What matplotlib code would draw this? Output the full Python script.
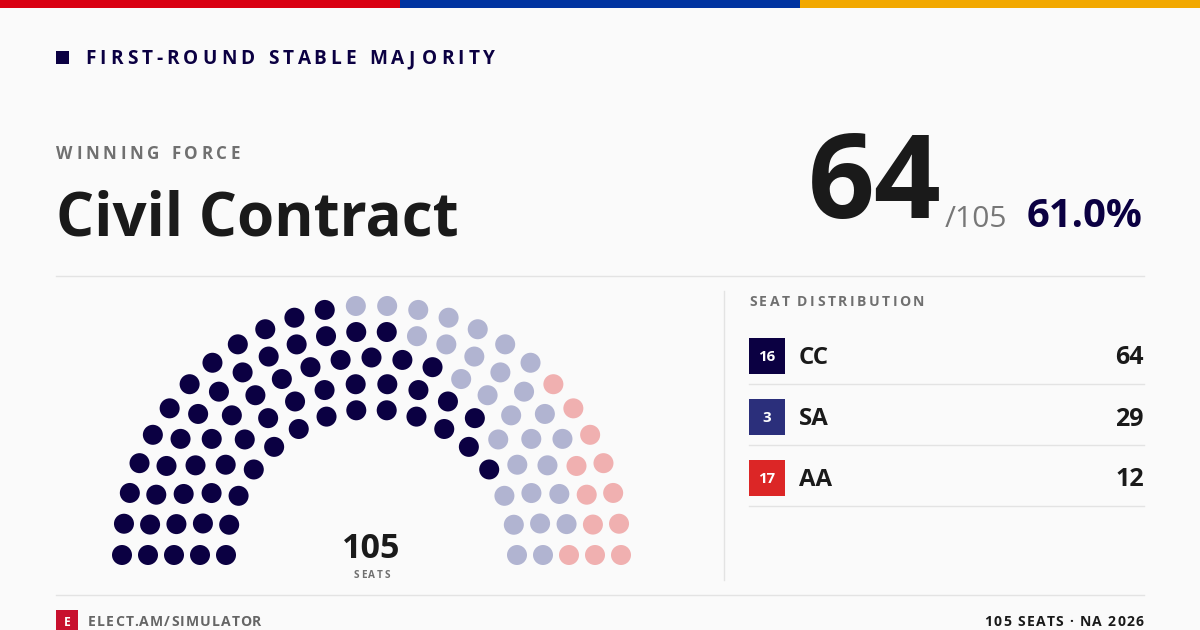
import numpy as np
import matplotlib
matplotlib.use("Agg")
import matplotlib.pyplot as plt
from matplotlib import font_manager as fm
from matplotlib.patches import Circle, Rectangle

# pick a sans family with a static bold face (Noto Sans here is variable only)
bold_fams = {f.name for f in fm.fontManager.ttflist
             if f.weight in (700, 'bold') and '[' not in f.fname}
FAMILY = 'DejaVu Sans'
for fam in ['Open Sans', 'Lato', 'Inter']:
    if fam in bold_fams:
        FAMILY = fam
        break
plt.rcParams['font.family'] = [FAMILY, 'DejaVu Sans']

# --- data ---
parties = ['CC', 'SA', 'AA']
party_seats = [64, 29, 12]
ballot_no = ['16', '3', '17']
winner_name = 'Civil Contract'
total_seats = 105

# hemicycle: seats per row (inner -> outer) and how each row is split
row_seats = [16, 18, 21, 24, 26]
cc_row = [13, 13, 13, 13, 12]
sa_row = [3, 5, 7, 7, 7]
aa_row = [0, 0, 1, 4, 7]

# --- styling ---
BG = '#fafafa'
NAVY = '#0b0042'
party_col = ['#0b0042', '#2b2f7b', '#dc2626']
seat_col = ['#0b0042', '#b1b4d1', '#f0b0b0']
GRAY = '#707070'
DARK = '#1a1a1a'
LINE = '#e3e3e3'

fig = plt.figure(figsize=(12, 6.3), dpi=100, facecolor=BG)
ax = fig.add_axes([0, 0, 1, 1])
ax.set_xlim(0, 1200)
ax.set_ylim(630, 0)
ax.axis('off')
ax.set_facecolor(BG)
renderer = fig.canvas.get_renderer()


def px(p):
    # pixel font size -> points
    return p * 0.72


def text_w(s, size, weight):
    t = ax.text(0, 0, s, fontsize=size, weight=weight)
    w = t.get_window_extent(renderer).width
    t.remove()
    return w


def spaced(x, y, s, size, spacing, color, weight='bold', ha='left'):
    href = text_w('H', size, weight)
    offs = [0.0]
    for i in range(1, len(s)):
        offs.append(text_w(s[:i] + 'H', size, weight) - href + i * spacing)
    total = offs[-1] + text_w(s[-1], size, weight)
    if ha == 'right':
        x = x - total
    elif ha == 'center':
        x = x - total / 2
    for ch, o in zip(s, offs):
        if ch != ' ':
            ax.text(x + o, y, ch, fontsize=size, weight=weight, color=color,
                    va='center', ha='left')


# top flag bar
for i, c in enumerate(['#d90012', '#0033a0', '#f2a800']):
    ax.add_patch(Rectangle((i * 400, 0), 400, 8, color=c, lw=0))

# header
ax.add_patch(Rectangle((56, 51), 13, 13, color=NAVY, lw=0))
spaced(85, 59, 'FIRST-ROUND STABLE MAJORITY', px(19), 4.15, NAVY)

spaced(56, 154, 'WINNING FORCE', px(17), 3.7, GRAY)
ax.text(56, 236, winner_name, fontsize=px(60), weight='bold', color=DARK,
        va='baseline', ha='left')

# big number
cc_share = party_seats[0] / total_seats * 100
ax.text(942, 218, str(party_seats[0]), fontsize=px(117), weight='bold',
        color=DARK, va='baseline', ha='right')
ax.text(945, 227, '/' + str(total_seats), fontsize=px(30), color='#777777',
        va='baseline', ha='left')
ax.text(1143, 227, f'{cc_share:.1f}%', fontsize=px(40), weight='bold',
        color=NAVY, va='baseline', ha='right')

ax.plot([56, 1144], [276, 276], color=LINE, lw=1)
ax.plot([724, 724], [291, 580], color=LINE, lw=1)

# hemicycle
cx, cy = 371.5, 555
r0, dr = 145.5, 26
for i, n in enumerate(row_seats):
    r = r0 + i * dr
    ang = np.radians(np.linspace(180, 0, n))
    cols = ([seat_col[0]] * cc_row[i] + [seat_col[1]] * sa_row[i]
            + [seat_col[2]] * aa_row[i])
    for a, c in zip(ang, cols):
        ax.add_patch(Circle((cx + r * np.cos(a), cy - r * np.sin(a)), 10,
                            color=c, lw=0))

ax.text(cx, 558, str(total_seats), fontsize=px(34), weight='bold', color=DARK,
        va='baseline', ha='center')
spaced(cx, 575, 'SEATS', px(10), 2.0, GRAY, ha='center')

# seat distribution table
spaced(749, 302, 'SEAT DISTRIBUTION', px(14), 2.5, GRAY)
for i, (p, s, b) in enumerate(zip(parties, party_seats, ballot_no)):
    yc = 356 + i * 61
    ax.add_patch(Rectangle((749, yc - 18), 36, 36, color=party_col[i], lw=0))
    ax.text(767, yc + 1, b, fontsize=px(15), weight='bold', color='white',
            va='center', ha='center')
    ax.text(799, yc + 2, p, fontsize=px(24), weight='bold', color=DARK,
            va='center', ha='left')
    ax.text(1144, yc + 2, str(s), fontsize=px(25), weight='bold', color=DARK,
            va='center', ha='right')
    ax.plot([749, 1144], [yc + 28, yc + 28], color=LINE, lw=1)

# footer
ax.plot([56, 1144], [595, 595], color=LINE, lw=1)
ax.add_patch(Rectangle((56, 610), 22, 22, color='#c8102e', lw=0))
ax.text(67, 622, 'E', fontsize=px(12), weight='bold', color='white',
        va='center', ha='center')
spaced(88, 622, 'ELECT.AM/SIMULATOR', px(14), 1.2, '#666666')
spaced(1144, 622, '105 SEATS · NA 2026', px(14), 1.35, DARK, ha='right')

fig.savefig('out.png', dpi=100, facecolor=BG)
